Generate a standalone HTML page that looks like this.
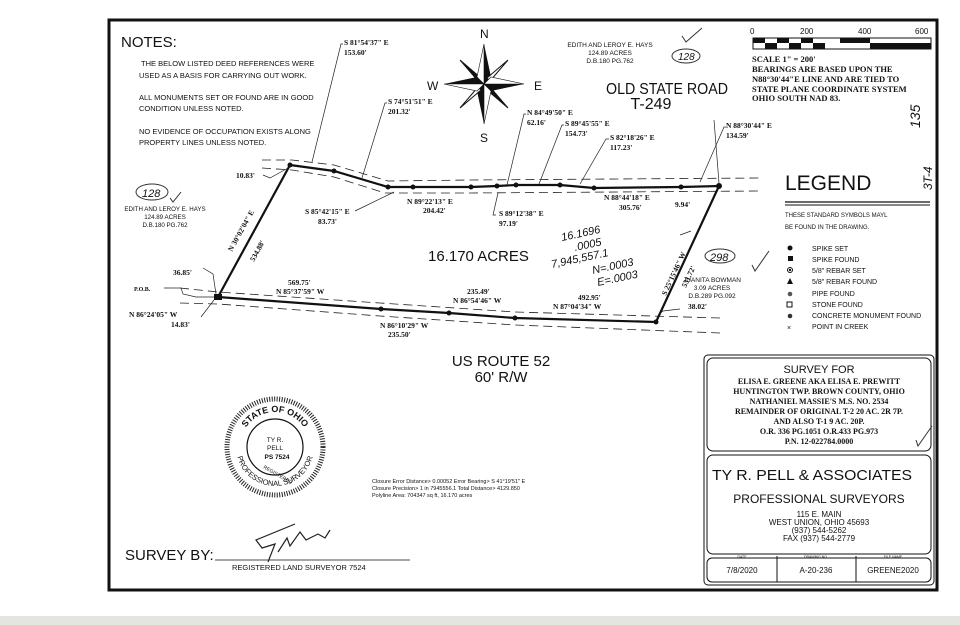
<!DOCTYPE html>
<html><head><meta charset="utf-8"><style>
html,body{margin:0;padding:0;background:#fff}
svg{display:block}
text{font-family:"Liberation Sans",sans-serif;fill:#111}
text.s,.s text{font-family:"Liberation Serif",serif;font-weight:bold}
</style></head><body>
<svg width="960" height="625" viewBox="0 0 960 625" xmlns="http://www.w3.org/2000/svg">
<rect width="960" height="625" fill="#fff"/>
<rect x="0" y="616" width="960" height="9" fill="#e4e4e0"/>
<rect x="109" y="20" width="828" height="570" fill="none" stroke="#111" stroke-width="3"/>
<text x="121" y="47" font-size="15">NOTES:</text>
<g font-size="7.5">
<text x="141" y="66">THE BELOW LISTED DEED REFERENCES WERE</text>
<text x="139" y="78">USED AS A BASIS FOR CARRYING OUT WORK.</text>
<text x="139" y="100">ALL MONUMENTS SET OR FOUND ARE IN GOOD</text>
<text x="139" y="111">CONDITION UNLESS NOTED.</text>
<text x="139" y="134">NO EVIDENCE OF OCCUPATION EXISTS ALONG</text>
<text x="139" y="145">PROPERTY LINES UNLESS NOTED.</text>
</g>
<g transform="translate(484,84)" fill="#111">
<text x="-4" y="-46" font-family="Liberation Serif" font-size="12">N</text>
<text x="-57" y="6" font-family="Liberation Serif" font-size="12">W</text>
<text x="50" y="6" font-family="Liberation Serif" font-size="12">E</text>
<text x="-4" y="58" font-family="Liberation Serif" font-size="12">S</text>
<polygon points="0,-40 7,-7 40,0 7,7 0,40 -7,7 -40,0 -7,-7" fill="#111"/>
<polygon points="-24,-24 -3,-6 -6,-3" fill="#111" stroke="#111"/>
<polygon points="24,-24 6,-3 3,-6" fill="#fff" stroke="#111"/>
<polygon points="24,24 3,6 6,3" fill="#111" stroke="#111"/>
<polygon points="-24,24 -6,3 -3,6" fill="#fff" stroke="#111"/>
<polygon points="0,-40 -7,-7 0,0" fill="#fff" stroke="#111" stroke-width="0.6"/>
<polygon points="40,0 7,-7 0,0" fill="#fff" stroke="#111" stroke-width="0.6"/>
<polygon points="0,40 7,7 0,0" fill="#fff" stroke="#111" stroke-width="0.6"/>
<polygon points="-40,0 -7,7 0,0" fill="#fff" stroke="#111" stroke-width="0.6"/>
</g>
<g font-size="6.5" text-anchor="middle"><text x="610" y="47">EDITH AND LEROY E. HAYS</text><text x="610" y="55">124.89 ACRES</text><text x="610" y="63">D.B.180 PG.762</text></g>
<ellipse cx="686" cy="56" rx="14" ry="7" fill="none" stroke="#333"/><text x="678" y="60" font-size="10" font-style="italic">128</text>
<path d="M682,36 l4,6 l16,-14" fill="none" stroke="#333"/>
<text x="606" y="94" font-size="16" textLength="122" lengthAdjust="spacingAndGlyphs">OLD STATE ROAD</text>
<text x="651" y="109" font-size="16" text-anchor="middle">T-249</text>
<g font-size="8"><text x="750" y="34">0</text><text x="800" y="34">200</text><text x="858" y="34">400</text><text x="915" y="34">600</text></g>
<rect x="753" y="38" width="178" height="11" fill="none" stroke="#111"/>
<g fill="#111">
<rect x="753" y="38" width="12" height="5"/><rect x="777" y="38" width="12" height="5"/><rect x="801" y="38" width="12" height="5"/>
<rect x="765" y="43" width="12" height="6"/><rect x="789" y="43" width="12" height="6"/><rect x="813" y="43" width="12" height="6"/>
<rect x="840" y="38" width="30" height="5"/><rect x="870" y="43" width="61" height="6"/>
</g>
<g class="s" font-size="8.5"><text x="752" y="62">SCALE 1" = 200'</text><text x="752" y="72">BEARINGS ARE BASED UPON THE</text><text x="752" y="82">N88°30'44"E LINE AND ARE TIED TO</text><text x="752" y="92">STATE PLANE COORDINATE SYSTEM</text><text x="752" y="101">OHIO SOUTH NAD 83.</text></g>
<text x="920" y="128" font-size="14" font-style="italic" transform="rotate(-90 920 128)" fill="#333">135</text>
<text x="932" y="190" font-size="12" font-style="italic" transform="rotate(-90 932 190)" fill="#333">3T-4</text>
<text x="785" y="190" font-size="21">LEGEND</text>
<line x1="785" y1="202" x2="930" y2="202" stroke="#111" stroke-width="1.2"/><line x1="785" y1="205" x2="930" y2="205" stroke="#111"/>
<g font-size="6"><text x="785" y="217">THESE STANDARD SYMBOLS MAYL</text><text x="785" y="229">BE FOUND IN THE DRAWING.</text></g>
<g font-size="7">
<circle cx="790" cy="248" r="2.5" fill="#111"/><text x="812" y="251">SPIKE SET</text>
<rect x="788" y="256" width="5" height="5" fill="#111"/><text x="812" y="262">SPIKE FOUND</text>
<circle cx="790" cy="270" r="2.5" fill="none" stroke="#111"/><circle cx="790" cy="270" r="1.2" fill="#111"/><text x="812" y="273">5/8" REBAR SET</text>
<polygon points="790,278 793,284 787,284" fill="#111"/><text x="812" y="284">5/8" REBAR FOUND</text>
<circle cx="790" cy="294" r="2.3" fill="#555"/><text x="812" y="296">PIPE FOUND</text>
<rect x="787" y="302" width="5" height="5" fill="none" stroke="#111"/><text x="812" y="307">STONE FOUND</text>
<circle cx="790" cy="316" r="2.3" fill="#333"/><text x="812" y="318">CONCRETE MONUMENT FOUND</text>
<text x="787" y="330">×</text><text x="812" y="329">POINT IN CREEK</text>
</g>
<g fill="none" stroke="#222" stroke-width="0.8" stroke-dasharray="9,5">
<path d="M262,160 L292,160 L334,165 L388,181 L470,180 L760,178"/>
<path d="M262,168 L292,170 L334,177 L385,193 L470,193 L760,191"/>
<path d="M180,288 L218,292 L380,303 L515,312 L720,318"/>
<path d="M180,303 L218,304 L380,316 L515,325 L720,333"/>
</g>
<polyline points="218,297 290,165 334,171 388,187 413,187 471,187 497,186 516,185 560,185 594,188 681,187 719,186 656,322 515,318 449,313 381,309 218,297" fill="none" stroke="#111" stroke-width="2.2"/>
<g fill="#111">
<circle cx="290" cy="165" r="2.5"/><circle cx="334" cy="171" r="2.5"/><circle cx="388" cy="187" r="2.5"/><circle cx="413" cy="187" r="2.5"/><circle cx="471" cy="187" r="2.5"/><circle cx="497" cy="186" r="2.5"/><circle cx="516" cy="185" r="2.5"/><circle cx="560" cy="185" r="2.5"/><circle cx="594" cy="188" r="2.5"/><circle cx="681" cy="187" r="2.5"/><circle cx="719" cy="186" r="3"/><circle cx="656" cy="322" r="2.5"/><circle cx="515" cy="318" r="2.5"/><circle cx="449" cy="313" r="2.5"/><circle cx="381" cy="309" r="2.5"/><rect x="214" y="294" width="8" height="6"/>
</g>
<g fill="none" stroke="#222" stroke-width="0.7">
<path d="M343,44 L341,44 L312,162"/><path d="M387,103 L385,103 L362,178"/>
<path d="M526,114 L524,114 L507,185"/><path d="M564,125 L562,125 L539,184"/><path d="M609,139 L606,139 L580,184"/>
<path d="M726,127 L724,127 L700,182"/><path d="M714,120 L719,183"/>
<path d="M394,192 L355,211"/><path d="M498,193 L493,215 L496,215"/>
<path d="M263,175 L270,178 L288,168"/><path d="M203,268 L213,274 L216,294"/>
<path d="M164,288 L181,288 L183,294 L196,297 L214,297"/><path d="M201,317 L214,300"/>
<path d="M680,235 L691,231"/><path d="M658,315 L663,311 L680,309"/>
</g>
<g class="s" font-size="7.5">
<text x="344" y="45">S 81°54'37" E</text><text x="344" y="55">153.60'</text>
<text x="388" y="104">S 74°51'51" E</text><text x="388" y="114">201.32'</text>
<text x="527" y="115">N 84°49'50" E</text><text x="527" y="125">62.16'</text>
<text x="565" y="126">S 89°45'55" E</text><text x="565" y="136">154.73'</text>
<text x="610" y="140">S 82°18'26" E</text><text x="610" y="150">117.23'</text>
<text x="726" y="128">N 88°30'44" E</text><text x="726" y="138">134.59'</text>
<text x="236" y="178">10.83'</text>
<text x="305" y="214">S 85°42'15" E</text><text x="318" y="224">83.73'</text>
<text x="407" y="204">N 89°22'13" E</text><text x="423" y="213">204.42'</text>
<text x="499" y="216">S 89°12'38" E</text><text x="499" y="226">97.19'</text>
<text x="604" y="200">N 88°44'18" E</text><text x="619" y="210">305.76'</text>
<text x="675" y="207">9.94'</text>
<text x="173" y="275">36.85'</text>
<text x="134" y="291" font-size="6">P.O.B.</text>
<text x="129" y="317">N 86°24'05" W</text><text x="171" y="327">14.83'</text>
<text x="288" y="285">569.75'</text><text x="276" y="294">N 85°37'59" W</text>
<text x="467" y="294">235.49'</text><text x="453" y="303">N 86°54'46" W</text>
<text x="578" y="300">492.95'</text><text x="553" y="309">N 87°04'34" W</text>
<text x="380" y="328">N 86°10'29" W</text><text x="388" y="337">235.50'</text>
<text x="688" y="309">38.02'</text>
<text x="232" y="252" transform="rotate(-61 232 252)">N 30°02'04" E</text>
<text x="254" y="262" transform="rotate(-61 254 262)">534.88'</text>
<text x="666" y="296" transform="rotate(-65 666 296)">S 25°15'46" W</text>
<text x="686" y="288" transform="rotate(-65 686 288)">531.72'</text>
</g>
<ellipse cx="152" cy="192" rx="16" ry="8" fill="none" stroke="#333"/><text x="142" y="197" font-size="11" font-style="italic">128</text>
<path d="M170,198 l3,4 l8,-10" fill="none" stroke="#333"/>
<g font-size="6.2" text-anchor="middle"><text x="165" y="211">EDITH AND LEROY E. HAYS</text><text x="165" y="219">124.89 ACRES</text><text x="165" y="227">D.B.180 PG.762</text></g>
<text x="428" y="261" font-size="15">16.170 ACRES</text>
<g font-size="11" font-style="italic" fill="#333">
<text x="562" y="241" transform="rotate(-12 562 241)">16.1696</text>
<text x="575" y="251" transform="rotate(-12 575 251)">.0005</text>
<text x="552" y="268" transform="rotate(-12 552 268)">7,945,557.1</text>
<text x="593" y="274" transform="rotate(-12 593 274)">N=.0003</text>
<text x="598" y="286" transform="rotate(-12 598 286)">E=.0003</text>
</g>
<ellipse cx="720" cy="256" rx="15" ry="7" fill="none" stroke="#333"/><text x="710" y="261" font-size="11" font-style="italic" fill="#333">298</text>
<path d="M752,265 l3,6 l14,-20" fill="none" stroke="#333"/>
<g font-size="6.5" text-anchor="middle"><text x="712" y="282">JUANITA BOWMAN</text><text x="712" y="290">3.09 ACRES</text><text x="712" y="298">D.B.289 PG.092</text></g>
<g font-size="15" text-anchor="middle"><text x="501" y="366">US ROUTE 52</text><text x="501" y="382">60' R/W</text></g>
<defs>
<path id="sealTop" d="M240,447 A35,35 0 0,1 310,447"/>
<path id="sealBot" d="M236,447 A39,39 0 0,0 314,447"/>
</defs>
<circle cx="275" cy="447" r="48" fill="none" stroke="#222" stroke-width="5" stroke-dasharray="1,1.5"/>
<circle cx="275" cy="447" r="28" fill="none" stroke="#111" stroke-width="1.2"/>
<text font-size="9" font-weight="bold"><textPath href="#sealTop" startOffset="50%" text-anchor="middle">STATE OF OHIO</textPath></text>
<text font-size="7.5"><textPath href="#sealBot" startOffset="50%" text-anchor="middle">PROFESSIONAL SURVEYOR</textPath></text>
<text x="275" y="442" font-size="6.5" text-anchor="middle">TY R.</text>
<text x="275" y="450" font-size="6.5" text-anchor="middle">PELL</text>
<text x="277" y="459" font-size="6.5" text-anchor="middle" font-weight="bold">PS 7524</text>
<text x="263" y="468" font-size="5" transform="rotate(30 263 468)">REGISTERED</text>
<g font-size="5.5"><text x="372" y="483">Closure Error Distance&gt; 0.00052 Error Bearing&gt; S 41°19'51" E</text><text x="372" y="490">Closure Precision&gt; 1 in 7945556.1 Total Distance&gt; 4129.850</text><text x="372" y="497">Polyline Area: 704347 sq ft, 16.170 acres</text></g>
<text x="125" y="560" font-size="15">SURVEY BY:</text>
<line x1="215" y1="560" x2="410" y2="560" stroke="#111" stroke-width="0.8"/>
<path d="M295,524 L256,540 L262,548 L275,544 L268,562 M278,552 L287,538 L290,546 L300,532 L306,540 L318,534 L325,538 L330,530" fill="none" stroke="#222" stroke-width="1.2"/>
<text x="232" y="570" font-size="7.5">REGISTERED LAND SURVEYOR 7524</text>
<rect x="704" y="355" width="230" height="230" rx="4" fill="none" stroke="#111"/>
<rect x="707" y="358" width="224" height="93" rx="6" fill="none" stroke="#111"/>
<text x="819" y="373" font-size="11" text-anchor="middle">SURVEY FOR</text>
<g class="s" font-size="8" text-anchor="middle"><text x="819" y="384">ELISA E. GREENE AKA ELISA E. PREWITT</text><text x="819" y="394">HUNTINGTON TWP. BROWN COUNTY, OHIO</text><text x="819" y="404">NATHANIEL MASSIE'S M.S. NO. 2534</text><text x="819" y="414">REMAINDER OF ORIGINAL T-2 20 AC. 2R 7P.</text><text x="819" y="424">AND ALSO T-1 9 AC. 20P.</text><text x="819" y="434">O.R. 336 PG.1051 O.R.433 PG.973</text><text x="819" y="444">P.N. 12-022784.0000</text></g>
<path d="M916,440 l2,6 l14,-20" fill="none" stroke="#333"/>
<rect x="707" y="455" width="224" height="99" rx="6" fill="none" stroke="#111"/>
<text x="712" y="480" font-size="15" textLength="200" lengthAdjust="spacingAndGlyphs">TY R. PELL &amp; ASSOCIATES</text>
<text x="819" y="503" font-size="12" text-anchor="middle">PROFESSIONAL SURVEYORS</text>
<g font-size="8" text-anchor="middle"><text x="819" y="517">115 E. MAIN</text><text x="819" y="525">WEST UNION, OHIO 45693</text><text x="819" y="533">(937) 544-5262</text><text x="819" y="541">FAX (937) 544-2779</text></g>
<rect x="707" y="558" width="224" height="24" rx="5" fill="none" stroke="#111"/>
<line x1="777" y1="556" x2="777" y2="582" stroke="#111"/><line x1="856" y1="556" x2="856" y2="582" stroke="#111"/>
<g font-size="3.5" text-anchor="middle"><text x="742" y="558">DATE</text><text x="816" y="558">DRAWING NO.</text><text x="893" y="558">FILE NAME</text></g>
<g font-size="8" text-anchor="middle"><text x="742" y="573">7/8/2020</text><text x="816" y="573">A-20-236</text><text x="893" y="573">GREENE2020</text></g>
</svg>
</body></html>
